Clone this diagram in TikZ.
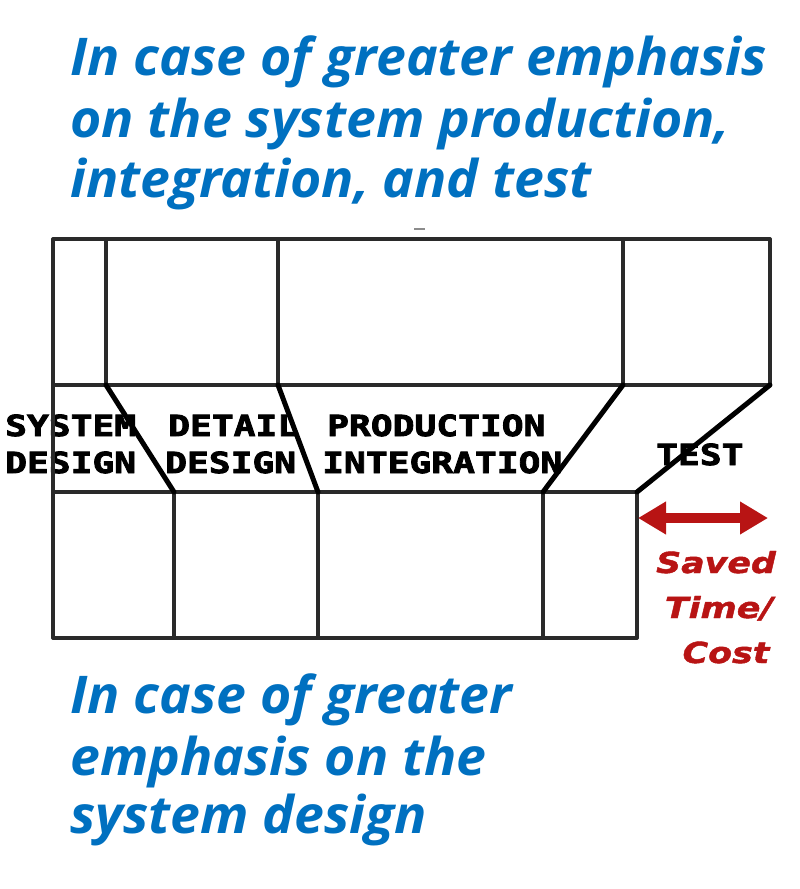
\documentclass[tikz,border=0pt]{standalone}
\usepackage{fontspec}
\usetikzlibrary{arrows.meta}
\newfontfamily\bluefont[FakeStretch=1.03]{Open Sans}
\newfontfamily\labfont[FakeStretch=1.25,FakeBold=3]{DejaVu Sans Mono Bold}
\newfontfamily\redfont[FakeStretch=1.2,FakeBold=1.5]{DejaVu Sans Bold Oblique}
\definecolor{blueTxt}{HTML}{0070C0}
\definecolor{redTxt}{HTML}{B81414}
\definecolor{gridCol}{HTML}{2A2A2A}
\tikzset{
  bluetext/.style={anchor=base west, inner sep=0pt, text=blueTxt, font=\bluefont\bfseries\itshape\fontsize{52}{61}\selectfont},
  labtext/.style={anchor=base west, inner sep=0pt, text=black, font=\labfont\fontsize{29}{37}\selectfont},
  redtext/.style={anchor=base, inner sep=0pt, text=redTxt, font=\redfont\fontsize{29}{45}\selectfont},
  gridline/.style={draw=gridCol, line width=3.3pt, line cap=round},
  slantline/.style={draw=black, line width=5pt, line cap=round},
  savedarrow/.style={draw=redTxt, line width=10pt, {Triangle[length=28pt,width=31pt]}-{Triangle[length=28pt,width=31pt]}}
}
\begin{document}
\begin{tikzpicture}[x=1pt,y=-1pt]
\useasboundingbox (0,0) rectangle (800,889);
% top text
\node[bluetext] (t1) at (70,75) {In case of greater emphasis};
\node[bluetext] (t2) at (70,137) {on the system production,};
\node[bluetext] (t3) at (70,197) {integration, and test};
% small dash
\draw[draw=black!45, line width=1.5pt] (414,229) -- (425,229);
% labels
\node[labtext] (s1) at (5,436) {SYSTEM};
\node[labtext] (s2) at (5,473) {DESIGN};
\node[labtext] (d1) at (168,436) {DETAIL};
\node[labtext] (d2) at (165,473) {DESIGN};
\node[labtext] (p1) at (327,436) {PRODUCTION};
\node[labtext] (p2) at (322,473) {INTEGRATION};
\node[labtext] (te) at (656,465) {TEST};
% grid coordinates
\coordinate (A0) at (53,239);  \coordinate (A1) at (106,239); \coordinate (A2) at (278,239);
\coordinate (A3) at (623,239); \coordinate (A4) at (770,239);
\coordinate (B0) at (53,385);  \coordinate (B1) at (106,385); \coordinate (B2) at (278,385);
\coordinate (B3) at (623,385); \coordinate (B4) at (770,385);
\coordinate (C0) at (53,492);  \coordinate (C1) at (174,492); \coordinate (C2) at (318,492);
\coordinate (C3) at (543,492); \coordinate (C4) at (637,492);
\coordinate (D0) at (53,638);  \coordinate (D1) at (174,638); \coordinate (D2) at (318,638);
\coordinate (D3) at (543,638); \coordinate (D4) at (637,638);
% horizontal lines
\draw[gridline] (A0) -- (A4);
\draw[gridline] (B0) -- (B4);
\draw[gridline] (C0) -- (C4);
\draw[gridline] (D0) -- (D4);
% vertical lines
\draw[gridline] (A0) -- (D0);
\draw[gridline] (A1) -- (B1);
\draw[gridline] (A2) -- (B2);
\draw[gridline] (A3) -- (B3);
\draw[gridline] (A4) -- (B4);
\draw[gridline] (C1) -- (D1);
\draw[gridline] (C2) -- (D2);
\draw[gridline] (C3) -- (D3);
\draw[gridline] (C4) -- (D4);
% slanted lines
\draw[slantline] (B1) -- (C1);
\draw[slantline] (B2) -- (C2);
\draw[slantline] (B3) -- (C3);
\draw[slantline] (B4) -- (C4);
% saved arrow
\coordinate (arL) at (638,518);
\coordinate (arR) at (768,518);
\draw[savedarrow] (arL) -- (arR);
\node[redtext] (r1) at (716,573) {Saved};
\node[redtext] (r2) at (719,618) {Time/};
\node[redtext] (r3) at (726,663) {Cost};
% bottom text
\node[bluetext] (b1) at (70,713) {In case of greater};
\node[bluetext] (b2) at (70,775) {emphasis on the};
\node[bluetext] (b3) at (70,833) {system design};
\end{tikzpicture}
\end{document}
